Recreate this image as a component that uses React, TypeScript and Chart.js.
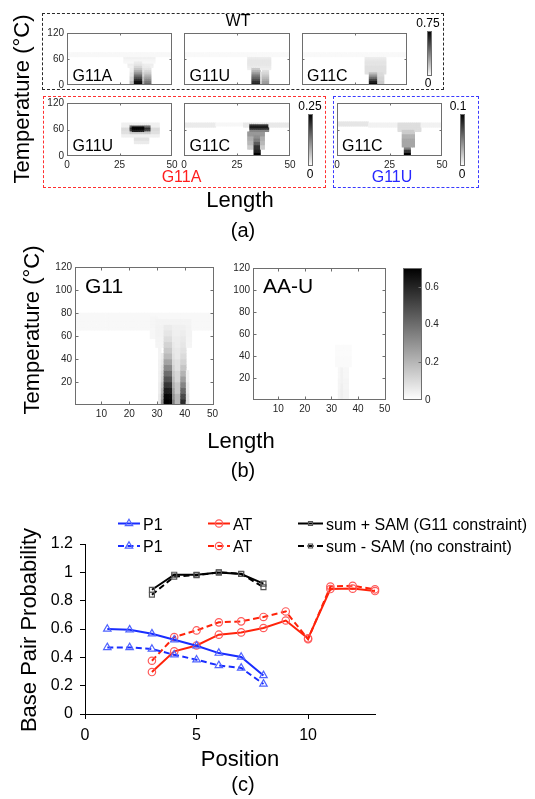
import React, { useEffect, useRef } from 'react';
import { Chart, registerables } from 'chart.js';

Chart.register(...registerables);

const FONT = '"Liberation Sans", Arial, Helvetica, sans-serif';
Chart.defaults.font.family = FONT;

// Strip: [lengthFrom, lengthTo, tempFrom, tempStep, intensities per temp step]
type Strip = [number, number, number, number, number[]];

// ---------- (a) WT row, colour limit 0.75 ----------
const wtG11A: Strip[] = [
  [0, 50, 65, 10, [0.02]],
  [27, 42, 50, 5, [0.025, 0.03, 0.04]],
  [29, 41, 40, 5, [0.04, 0.05]],
  [30, 32, 0, 10, [0.18, 0.12, 0.08, 0.05]],
  [32, 36, 0, 5, [0.73, 0.7, 0.62, 0.52, 0.42, 0.32, 0.24, 0.17, 0.12, 0.08, 0.06]],
  [36, 37, 0, 10, [0.25, 0.18, 0.12, 0.08, 0.06]],
  [37, 40, 0, 5, [0.45, 0.4, 0.34, 0.28, 0.22, 0.16, 0.12, 0.08, 0.06]],
];
const wtG11U: Strip[] = [
  [0, 50, 65, 10, [0.018]],
  [30, 41, 35, 5, [0.05, 0.06, 0.07, 0.07, 0.07, 0.06]],
  [32, 36, 0, 5, [0.65, 0.6, 0.52, 0.45, 0.38, 0.3, 0.22, 0.16]],
  [36, 37, 0, 10, [0.15, 0.12, 0.1]],
  [37, 40, 0, 5, [0.3, 0.28, 0.24, 0.2, 0.16, 0.12, 0.1]],
];
const wtG11C: Strip[] = [
  [0, 50, 65, 10, [0.018]],
  [30, 40, 25, 5, [0.09, 0.09, 0.09, 0.09, 0.08, 0.08, 0.07, 0.06]],
  [32, 36, 0, 5, [0.73, 0.66, 0.55, 0.42, 0.3, 0.2]],
  [36, 39, 0, 10, [0.15, 0.13, 0.11]],
];
// ---------- (a) G11A mutant, colour limit 0.25 ----------
const g11aG11U: Strip[] = [
  [26, 44, 42, 8, [0.015, 0.03, 0.035, 0.015]],
  [30, 40, 50, 4, [0.05, 0.11, 0.19, 0.21, 0.14]],
  [31, 37, 56, 4, [0.22, 0.25, 0.24]],
  [32, 39, 28, 7, [0.02, 0.028]],
];
const g11aG11C: Strip[] = [
  [0, 15, 66, 10, [0.02]],
  [15, 28, 68, 6, [0.008]],
  [28, 50, 64, 12, [0.022]],
  [31, 40, 56, 4, [0.12, 0.2, 0.24, 0.2]],
  [30, 38, 16, 10, [0.05, 0.07, 0.08, 0.1]],
  [33, 36, 0, 8, [0.25, 0.22, 0.2, 0.16, 0.13, 0.11, 0.1]],
];
// ---------- (a) G11U mutant, colour limit 0.1 ----------
const g11uG11C: Strip[] = [
  [0, 15, 68, 10, [0.01]],
  [15, 50, 66, 10, [0.005]],
  [29, 40, 54, 10, [0.013, 0.013]],
  [31, 37, 20, 10, [0.035, 0.035, 0.03, 0.02]],
  [32, 35, 0, 7, [0.1, 0.08, 0.05]],
];
// ---------- (b) colour limit 0.7 ----------
const bG11: Strip[] = [
  [1, 50, 66, 13, [0.018]],
  [28, 30, 58, 10, [0.022, 0.025]],
  [30, 42, 50, 5, [0.028, 0.03, 0.034, 0.034, 0.03]],
  [31, 31, 0, 10, [0.06, 0.05, 0.04, 0.035, 0.03]],
  [32, 32, 0, 5, [0.3, 0.25, 0.2, 0.16, 0.12, 0.1, 0.08, 0.06, 0.05]],
  [33, 35, 0, 5, [0.7, 0.68, 0.62, 0.55, 0.47, 0.4, 0.32, 0.25, 0.19, 0.15, 0.12, 0.09, 0.07, 0.055]],
  [36, 36, 0, 5, [0.35, 0.3, 0.26, 0.22, 0.18, 0.15, 0.12, 0.1, 0.08, 0.07, 0.06, 0.05, 0.045, 0.04]],
  [37, 38, 0, 10, [0.2, 0.15, 0.11, 0.08, 0.06, 0.05, 0.04]],
  [39, 40, 0, 5, [0.58, 0.5, 0.42, 0.34, 0.27, 0.21, 0.16, 0.12, 0.1, 0.08, 0.07, 0.06, 0.05, 0.04]],
  [41, 41, 0, 10, [0.08, 0.06, 0.04]],
];
const bAAU: Strip[] = [
  [32, 37, 30, 10, [0.015, 0.012]],
  [33, 36, 0, 10, [0.03, 0.028, 0.022]],
  [34, 34, 0, 15, [0.045, 0.035]],
];

const limA1 = 0.75;
const limA2 = 0.25;
const limA3 = 0.1;
const limB = 0.7;

const xTicksA = [0, 25, 50];
const yTicksA = [0, 60, 120];
const xTicksB = [10, 20, 30, 40, 50];
const yTicksB = [20, 40, 60, 80, 100, 120];
const cbTicksB = [0, 0.2, 0.4, 0.6];

// ---------- (c) ----------
const p1Pos = [1, 2, 3, 4, 5, 6, 7, 8];
const p1Plus = [0.6, 0.595, 0.567, 0.524, 0.482, 0.43, 0.402, 0.272];
const p1Minus = [0.47, 0.47, 0.459, 0.418, 0.383, 0.343, 0.325, 0.212];
const atPos = [3, 4, 5, 6, 7, 8, 9, 10, 11, 12, 13];
const atPlus = [0.296, 0.442, 0.484, 0.56, 0.576, 0.607, 0.66, 0.534, 0.882, 0.885, 0.868];
const atMinus = [0.376, 0.543, 0.59, 0.647, 0.654, 0.685, 0.724, 0.528, 0.9, 0.905, 0.88];
const sumPos = [3, 4, 5, 6, 7, 8];
const sumPlus = [0.877, 0.983, 0.983, 0.999, 0.988, 0.92];
const sumMinus = [0.842, 0.97, 0.98, 1.0, 0.99, 0.895];
const xTicksC = [0, 5, 10];
const yTicksC = [0, 0.2, 0.4, 0.6, 0.8, 1, 1.2];

const xCellsA = Array.from({ length: 50 }, (_, i) => i + 0.5);
const xCellsB = Array.from({ length: 50 }, (_, i) => i + 1);
const T_STEP = 2.5;
const T_TOP = 120;

function gray(v: number, vmax: number) {
  const g = Math.round(255 * (1 - Math.min(1, v / vmax)));
  return `rgb(${g},${g},${g})`;
}

function buildCells(strips: Strip[], xCenters: number[], vmax: number) {
  const data: any[] = [];
  const colors: string[] = [];
  for (const xc of xCenters) {
    for (let t = 0; t < T_TOP; t += T_STEP) {
      const tc = t + T_STEP / 2;
      let v = 0;
      for (const [x0, x1, t0, dt, vals] of strips) {
        if (xc < x0 || xc > x1) continue;
        const k = Math.floor((tc - t0) / dt);
        if (k >= 0 && k < vals.length) v = Math.max(v, vals[k]);
      }
      if (v > 0) {
        data.push({ x: xc, y: [t, t + T_STEP] });
        colors.push(gray(v, vmax));
      }
    }
  }
  return { data, colors };
}

const framePlugin: any = {
  id: 'frame',
  afterDatasetsDraw(chart: any, _a: any, o: any) {
    if (!o || !o.color) return;
    const { ctx, chartArea: a } = chart;
    const L = Math.round(a.left) + 0.5;
    const T = Math.round(a.top) + 0.5;
    const R = Math.round(a.right) - 0.5;
    const B = Math.round(a.bottom) - 0.5;
    ctx.save();
    ctx.strokeStyle = o.color;
    ctx.lineWidth = 1;
    ctx.strokeRect(L, T, R - L, B - T);
    const m = o.tick || 0;
    if (m) {
      ctx.beginPath();
      (o.xTicks || []).forEach((v: number) => {
        const px = Math.round(chart.scales.x.getPixelForValue(v)) + 0.5;
        if (px <= L + 1 || px >= R - 1) return;
        ctx.moveTo(px, B); ctx.lineTo(px, B - m);
        ctx.moveTo(px, T); ctx.lineTo(px, T + m);
      });
      (o.yTicks || []).forEach((v: number) => {
        const py = Math.round(chart.scales.y.getPixelForValue(v)) + 0.5;
        if (py <= T + 1 || py >= B - 1) return;
        if (o.ySide !== 'right') { ctx.moveTo(L, py); ctx.lineTo(L + m, py); }
        ctx.moveTo(R, py); ctx.lineTo(R - m, py);
      });
      ctx.stroke();
    }
    ctx.restore();
  },
};

type HeatProps = {
  left: number; top: number; width: number; height: number;
  strips: Strip[]; vmax: number; cells: number[];
  xMin: number; xMax: number;
  xTicks: number[]; yTicks: number[];
  showX: boolean; showY: boolean; tickSize: number; mark: number;
};

function Heatmap(p: HeatProps) {
  const ref = useRef<HTMLCanvasElement>(null);
  const ML = 40, MR = 12, MT = 10, MB = 24;
  const W = p.width + ML + MR;
  const H = p.height + MT + MB;
  useEffect(() => {
    const { data, colors } = buildCells(p.strips, p.cells, p.vmax);
    const tickFont = { family: FONT, size: p.tickSize };
    const chart = new Chart(ref.current as HTMLCanvasElement, {
      type: 'bar',
      data: {
        datasets: [{
          data, backgroundColor: colors, borderWidth: 0,
          barPercentage: 1, categoryPercentage: 1,
        } as any],
      },
      options: {
        animation: false, responsive: false, events: [],
        layout: { padding: { left: 0, top: MT, right: MR, bottom: 0 } },
        plugins: {
          legend: { display: false }, tooltip: { enabled: false },
          frame: { color: '#6e6e6e', tick: p.mark, xTicks: p.xTicks, yTicks: p.yTicks },
        } as any,
        scales: {
          x: {
            type: 'linear', min: p.xMin, max: p.xMax, offset: false,
            grid: { display: false, drawTicks: false, offset: false },
            border: { display: false },
            ticks: { display: p.showX, font: tickFont, color: '#262626', padding: 3, maxRotation: 0, autoSkip: false },
            afterBuildTicks: (s: any) => { s.ticks = p.xTicks.map((v) => ({ value: v })); },
            afterFit: (s: any) => { s.height = MB; },
          },
          y: {
            type: 'linear', min: 0, max: 120,
            grid: { display: false, drawTicks: false },
            border: { display: false },
            ticks: { display: p.showY, font: tickFont, color: '#262626', padding: 3, autoSkip: false },
            afterBuildTicks: (s: any) => { s.ticks = p.yTicks.map((v) => ({ value: v })); },
            afterFit: (s: any) => { s.width = ML; },
          },
        } as any,
      },
      plugins: [framePlugin],
    });
    return () => chart.destroy();
  }, []);
  return (
    <canvas ref={ref} width={W} height={H}
      style={{ position: 'absolute', left: p.left - ML, top: p.top - MT, width: W, height: H }} />
  );
}

function Colorbar(p: { left: number; top: number; width: number; height: number; vmax: number; ticks?: number[] }) {
  const ref = useRef<HTMLCanvasElement>(null);
  const MT = 10, MB = 10;
  const RW = p.ticks ? 30 : 0;
  const W = p.width + RW;
  const H = p.height + MT + MB;
  useEffect(() => {
    const chart = new Chart(ref.current as HTMLCanvasElement, {
      type: 'bar',
      data: {
        labels: [''],
        datasets: [{
          data: [[0, p.vmax]],
          backgroundColor: (ctx: any) => {
            const a = ctx.chart.chartArea;
            if (!a) return '#888';
            const g = ctx.chart.ctx.createLinearGradient(0, a.bottom, 0, a.top);
            g.addColorStop(0, '#ffffff');
            g.addColorStop(1, '#000000');
            return g;
          },
          borderWidth: 0, barPercentage: 1, categoryPercentage: 1,
        } as any],
      },
      options: {
        animation: false, responsive: false, events: [],
        layout: { padding: { left: 0, right: 0, top: MT, bottom: MB } },
        plugins: {
          legend: { display: false }, tooltip: { enabled: false },
          frame: { color: '#6e6e6e', tick: p.ticks ? 3 : 0, yTicks: p.ticks || [], ySide: 'right' },
        } as any,
        scales: {
          x: { display: false },
          y: {
            display: !!p.ticks, position: 'right', min: 0, max: p.vmax,
            grid: { display: false, drawTicks: false }, border: { display: false },
            ticks: { font: { family: FONT, size: 10 }, color: '#262626', padding: 3, callback: (v: any) => String(v) },
            afterBuildTicks: (s: any) => { s.ticks = (p.ticks || []).map((v) => ({ value: v })); },
            afterFit: (s: any) => { s.width = RW; },
          },
        } as any,
      },
      plugins: [framePlugin],
    });
    return () => chart.destroy();
  }, []);
  return (
    <canvas ref={ref} width={W} height={H}
      style={{ position: 'absolute', left: p.left, top: p.top - MT, width: W, height: H }} />
  );
}

const BLUE = 'rgb(25,45,255)';
const BLUE_M = 'rgb(80,100,255)';
const RED = 'rgb(255,35,10)';
const RED_M = 'rgb(255,90,90)';
const BLACK = 'rgb(0,0,0)';
const BLACK_M = 'rgb(85,85,85)';

function drawMarker(ctx: CanvasRenderingContext2D, style: string, x: number, y: number, r: number) {
  ctx.beginPath();
  if (style === 'triangle') {
    ctx.moveTo(x, y - r);
    ctx.lineTo(x + r * 0.866, y + r * 0.5);
    ctx.lineTo(x - r * 0.866, y + r * 0.5);
    ctx.closePath();
  } else if (style === 'circle') {
    ctx.arc(x, y, r, 0, Math.PI * 2);
  } else {
    const s = r * Math.SQRT1_2;
    ctx.rect(x - s, y - s, 2 * s, 2 * s);
  }
  ctx.stroke();
}

const legendPlugin: any = {
  id: 'placedLegend',
  afterDraw(chart: any, _a: any, o: any) {
    const ctx: CanvasRenderingContext2D = chart.ctx;
    ctx.save();
    (o.items || []).forEach((it: any) => {
      const ds = chart.data.datasets[it.i];
      ctx.strokeStyle = ds.borderColor;
      ctx.lineWidth = 2;
      ctx.setLineDash(ds.borderDash || []);
      ctx.beginPath();
      ctx.moveTo(it.x, it.y);
      ctx.lineTo(it.x + it.len, it.y);
      ctx.stroke();
      ctx.setLineDash([]);
      ctx.strokeStyle = ds.pointBorderColor;
      ctx.lineWidth = 1.2;
      drawMarker(ctx, ds.pointStyle, it.x + it.len / 2, it.y, it.r);
      ctx.fillStyle = '#000';
      ctx.font = `16px ${FONT}`;
      ctx.textBaseline = 'alphabetic';
      ctx.textAlign = 'left';
      ctx.fillText(ds.label, it.x + it.len + 3, it.y + 6);
    });
    ctx.restore();
  },
};

function LineChartC() {
  const ref = useRef<HTMLCanvasElement>(null);
  const LEFT = 0, TOP = 500, W = 535, H = 254;
  useEffect(() => {
    const mk = (label: string, xs: number[], ys: number[], color: string, mcolor: string, style: string, dashed: boolean, r: number) => ({
      label,
      data: xs.map((x, i) => ({ x, y: ys[i] })),
      borderColor: color, backgroundColor: color, borderWidth: 2,
      borderDash: dashed ? [6, 3.5] : [],
      pointStyle: style, pointRadius: r, pointBorderColor: mcolor,
      pointBackgroundColor: 'rgba(0,0,0,0)', pointBorderWidth: 1.2,
      tension: 0, clip: false, fill: false,
    });
    const chart = new Chart(ref.current as HTMLCanvasElement, {
      type: 'line',
      data: {
        datasets: [
          mk('P1', p1Pos, p1Plus, BLUE, BLUE_M, 'triangle', false, 4.3),
          mk('P1', p1Pos, p1Minus, BLUE, BLUE_M, 'triangle', true, 4.3),
          mk('AT', atPos, atPlus, RED, RED_M, 'circle', false, 3.7),
          mk('AT', atPos, atMinus, RED, RED_M, 'circle', true, 3.7),
          mk('sum + SAM (G11 constraint)', sumPos, sumPlus, BLACK, BLACK_M, 'rect', false, 3.5),
          mk('sum - SAM (no constraint)', sumPos, sumMinus, BLACK, BLACK_M, 'rect', true, 3.5),
        ] as any,
      },
      options: {
        animation: false, responsive: false, events: [],
        layout: { padding: { left: 0, top: 44, right: 160, bottom: 0 } },
        plugins: {
          legend: { display: false }, tooltip: { enabled: false },
          placedLegend: {
            items: [
              { i: 0, x: 118, y: 23.5, len: 22, r: 4.3 },
              { i: 1, x: 118, y: 46, len: 22, r: 4.3 },
              { i: 2, x: 208, y: 23.5, len: 22, r: 3.7 },
              { i: 3, x: 208, y: 46, len: 22, r: 3.7 },
              { i: 4, x: 298, y: 23.5, len: 25, r: 2.8 },
              { i: 5, x: 298, y: 46, len: 25, r: 2.8 },
            ],
          },
        } as any,
        scales: {
          x: {
            type: 'linear', min: 0, max: 13,
            grid: { display: true, drawOnChartArea: false, drawTicks: true, tickLength: 5, color: '#000' },
            border: { display: true, color: '#000', width: 1 },
            ticks: { font: { family: FONT, size: 16 }, color: '#000', padding: 7, maxRotation: 0, autoSkip: false, callback: (v: any) => String(v) },
            afterBuildTicks: (s: any) => { s.ticks = xTicksC.map((v) => ({ value: v })); },
            afterFit: (s: any) => { s.height = 40; },
          },
          y: {
            type: 'linear', min: 0, max: 1.2,
            grid: { display: true, drawOnChartArea: false, drawTicks: true, tickLength: 5, color: '#000' },
            border: { display: true, color: '#000', width: 1 },
            ticks: { font: { family: FONT, size: 16 }, color: '#000', padding: 7, autoSkip: false, callback: (v: any) => String(v) },
            afterBuildTicks: (s: any) => { s.ticks = yTicksC.map((v) => ({ value: v })); },
            afterFit: (s: any) => { s.width = 85; },
          },
        } as any,
      },
      plugins: [legendPlugin],
    });
    return () => chart.destroy();
  }, []);
  return (
    <canvas ref={ref} width={W} height={H}
      style={{ position: 'absolute', left: LEFT, top: TOP, width: W, height: H }} />
  );
}

function Txt(p: { x: number; y: number; s: number; c?: string; a?: 'start' | 'middle' | 'end'; children: React.ReactNode }) {
  const tx = p.a === 'start' ? '0' : p.a === 'end' ? '-100%' : '-50%';
  return (
    <div style={{
      position: 'absolute', left: p.x, top: p.y - 0.8465 * p.s, fontSize: p.s, lineHeight: `${p.s}px`,
      color: p.c || '#000', whiteSpace: 'nowrap', transform: `translateX(${tx})`, fontFamily: FONT,
    }}>{p.children}</div>
  );
}

function Rot(p: { cx: number; cy: number; s: number; children: React.ReactNode }) {
  return (
    <div style={{
      position: 'absolute', left: p.cx, top: p.cy, fontSize: p.s, lineHeight: `${p.s}px`,
      whiteSpace: 'nowrap', transform: 'translate(-50%,-50%) rotate(-90deg)', fontFamily: FONT, color: '#000',
    }}>{p.children}</div>
  );
}

function Box(p: { l: number; t: number; r: number; b: number; c: string }) {
  return <div style={{ position: 'absolute', left: p.l, top: p.t, width: p.r - p.l, height: p.b - p.t, border: `1px dashed ${p.c}`, boxSizing: 'border-box' }} />;
}

export default function App() {
  const aCommon = { cells: xCellsA, xMin: 0, xMax: 50, xTicks: xTicksA, yTicks: yTicksA, tickSize: 10, mark: 2 };
  const bCommon = { cells: xCellsB, xMin: 0.5, xMax: 50.5, xTicks: xTicksB, yTicks: yTicksB, tickSize: 10, mark: 3, showX: true, showY: true };
  return (
    <div style={{ position: 'absolute', left: 0, top: 0, width: 535, height: 799, background: '#fff', overflow: 'hidden', fontFamily: FONT }}>
      {/* (a) boxes */}
      <Box l={42} t={13} r={444} b={90} c="#2a2a2a" />
      <Box l={43} t={96} r={326} b={188} c="#ff3030" />
      <Box l={333} t={96} r={479} b={188} c="#3a3aff" />

      {/* (a) heatmaps */}
      <Heatmap {...aCommon} left={67} top={33} width={105} height={52} strips={wtG11A} vmax={limA1} showX={false} showY={true} />
      <Heatmap {...aCommon} left={184} top={33} width={106} height={52} strips={wtG11U} vmax={limA1} showX={false} showY={false} />
      <Heatmap {...aCommon} left={302} top={33} width={105} height={52} strips={wtG11C} vmax={limA1} showX={false} showY={false} />
      <Colorbar left={427} top={31} width={5} height={45} vmax={limA1} />

      <Heatmap {...aCommon} left={67} top={103} width={105} height={53} strips={g11aG11U} vmax={limA2} showX={true} showY={true} />
      <Heatmap {...aCommon} left={184} top={103} width={106} height={53} strips={g11aG11C} vmax={limA2} showX={true} showY={false} />
      <Colorbar left={308} top={114} width={5} height={52} vmax={limA2} />

      <Heatmap {...aCommon} left={337} top={103} width={105} height={53} strips={g11uG11C} vmax={limA3} showX={true} showY={false} />
      <Colorbar left={460} top={114} width={5} height={52} vmax={limA3} />

      {/* (b) heatmaps */}
      <Heatmap {...bCommon} left={75} top={267} width={139} height={138} strips={bG11} vmax={limB} />
      <Heatmap {...bCommon} left={253} top={268} width={133} height={132} strips={bAAU} vmax={limB} />
      <Colorbar left={403} top={268} width={19} height={132} vmax={limB} ticks={cbTicksB} />

      {/* (c) */}
      <LineChartC />

      {/* texts (a) */}
      <Rot cx={22} cy={99} s={22}>Temperature (°C)</Rot>
      <Txt x={238} y={27} s={16}>WT</Txt>
      <Txt x={428} y={27} s={12}>0.75</Txt>
      <Txt x={428} y={87} s={12}>0</Txt>
      <Txt x={310} y={110} s={12}>0.25</Txt>
      <Txt x={310} y={178} s={12}>0</Txt>
      <Txt x={458} y={110} s={12}>0.1</Txt>
      <Txt x={462} y={178} s={12}>0</Txt>
      <Txt x={72.5} y={81.5} s={16} a="start">G11A</Txt>
      <Txt x={189.5} y={81.5} s={16} a="start">G11U</Txt>
      <Txt x={307} y={81.5} s={16} a="start">G11C</Txt>
      <Txt x={72.5} y={152} s={16} a="start">G11U</Txt>
      <Txt x={189.5} y={152} s={16} a="start">G11C</Txt>
      <Txt x={342} y={152} s={16} a="start">G11C</Txt>
      <Txt x={181.5} y={183} s={16} c="#ff1e1e">G11A</Txt>
      <Txt x={392} y={183} s={16} c="#2828ff">G11U</Txt>
      <Txt x={240} y={208} s={22}>Length</Txt>
      <Txt x={243} y={237} s={20}>(a)</Txt>

      {/* texts (b) */}
      <Rot cx={32} cy={330} s={22}>Temperature (°C)</Rot>
      <Txt x={85} y={293} s={21} a="start">G11</Txt>
      <Txt x={263} y={293} s={21} a="start">AA-U</Txt>
      <Txt x={241} y={449} s={22}>Length</Txt>
      <Txt x={243} y={477} s={20}>(b)</Txt>

      {/* texts (c) */}
      <Rot cx={29} cy={630} s={22}>Base Pair Probability</Rot>
      <Txt x={240} y={767} s={22}>Position</Txt>
      <Txt x={243} y={791} s={20}>(c)</Txt>
    </div>
  );
}
